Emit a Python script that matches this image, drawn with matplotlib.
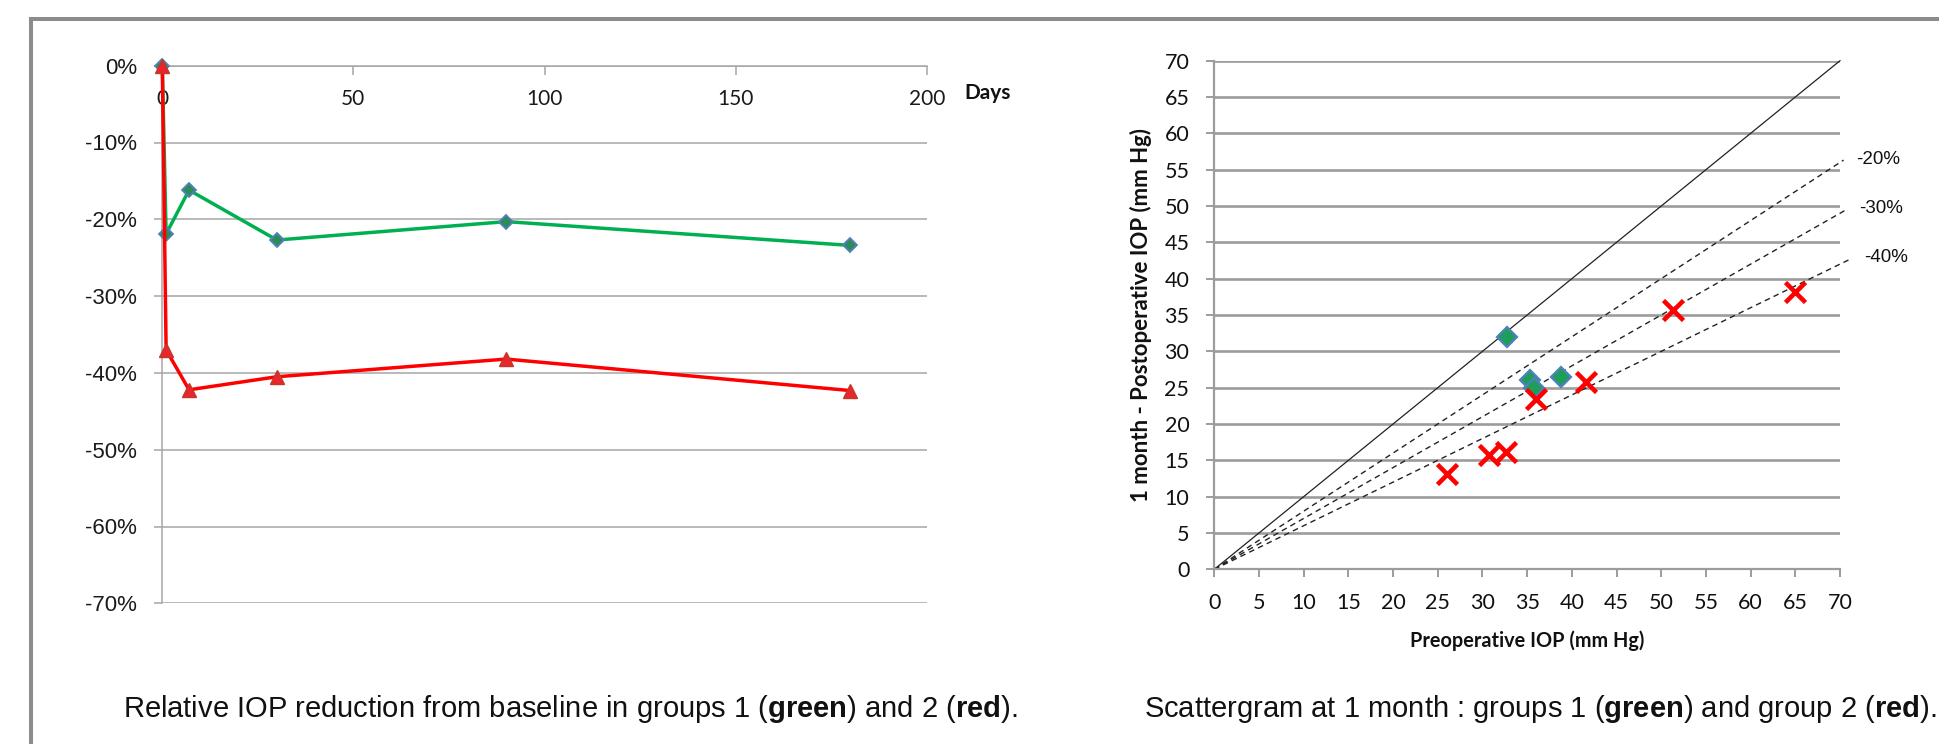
import matplotlib
matplotlib.use("Agg")
import matplotlib.pyplot as plt
from matplotlib.lines import Line2D

# ---------------- data ----------------
days = [0, 1, 7, 30, 90, 180]
group1_pct = [0.0, -21.9, -16.2, -22.7, -20.3, -23.4]
group2_pct = [0.0, -37.0, -42.2, -40.5, -38.2, -42.3]
left_xticks = [0, 50, 100, 150, 200]
left_yticks = [0, -10, -20, -30, -40, -50, -60, -70]
left_ylabels = ["0%", "-10%", "-20%", "-30%", "-40%", "-50%", "-60%", "-70%"]

g1_pre = [32.7, 35.3, 35.8, 38.75]
g1_post = [32.0, 26.1, 24.9, 26.4]
g2_pre = [26.0, 30.7, 32.6, 36.0, 41.6, 51.3, 65.0]
g2_post = [13.1, 15.8, 16.1, 23.4, 25.8, 35.7, 38.1]
ref_slopes = [0.8, 0.7, 0.6]
ref_labels = ["-20%", "-30%", "-40%"]
ref_xend = [70.4, 70.7, 71.2]
right_ticks = list(range(0, 75, 5))

plt.rcParams['mathtext.fontset'] = 'custom'
plt.rcParams['mathtext.rm'] = 'Liberation Sans'
plt.rcParams['mathtext.bf'] = 'Liberation Sans:bold'

W, H = 1940, 744
fig = plt.figure(figsize=(W / 100, H / 100), dpi=100)
fig.patch.set_facecolor('white')

def fx(px):
    return px / W

def fy(py):
    return 1 - py / H

GREEN = '#00B050'
RED = '#FF0000'
BLUE_EDGE = '#4F81BD'
GRID_L = '#A6A6A6'
GRID_R = '#9C9C9C'

# ---------------- frame ----------------
frame_c = '#8C8C8C'
fig.add_artist(Line2D([fx(30.7), 1.0], [fy(19.3), fy(19.3)], transform=fig.transFigure,
                      color=frame_c, lw=2.9, solid_capstyle='projecting'))
fig.add_artist(Line2D([fx(30.7), fx(30.7)], [fy(19.3), 0.0], transform=fig.transFigure,
                      color=frame_c, lw=2.9, solid_capstyle='projecting'))

# ---------------- left chart ----------------
l0, r0, t0, b0 = 162.3, 926.7, 65.7, 603.3
axL = fig.add_axes([fx(l0), fy(b0), fx(r0 - l0), (b0 - t0) / H])
axL.set_xlim(0, 200)
axL.set_ylim(-70, 0)
axL.set_yticks(left_yticks)
axL.set_yticklabels(left_ylabels)
axL.set_xticks(left_xticks)
axL.set_xticklabels([str(v) for v in left_xticks])
for s in ['top', 'right']:
    axL.spines[s].set_visible(False)
axL.spines['bottom'].set_position(('data', 0))
axL.spines['bottom'].set_color(GRID_L)
axL.spines['left'].set_color(GRID_L)
axL.spines['bottom'].set_linewidth(1.1)
axL.spines['left'].set_linewidth(1.1)
axL.yaxis.grid(True, color=GRID_L, lw=1.1)
axL.set_axisbelow(True)
axL.tick_params(axis='y', direction='out', length=6, width=1.1, color=GRID_L, pad=12,
                labelsize=16)
axL.tick_params(axis='x', direction='out', length=6.5, width=1.1, color=GRID_L, pad=10,
                labelsize=15)
for lab in axL.get_yticklabels():
    lab.set_fontfamily('Liberation Sans')
    lab.set_color('#1a1a1a')
for lab in axL.get_xticklabels():
    lab.set_fontfamily('Lato')
    lab.set_color('#1a1a1a')

axL.plot(days, group1_pct, color=GREEN, lw=2.5, marker='D', ms=7,
         mfc='#2E8B57', mec=BLUE_EDGE, mew=1.3, clip_on=False, zorder=3)
axL.plot(days, group2_pct, color=RED, lw=2.5, marker='^', ms=10,
         mfc='#E8262B', mec='#C0392B', mew=1.0, clip_on=False, zorder=4)

fig.text(fx(987.5), fy(93.3), "Days", fontfamily='Lato', fontweight='bold', fontsize=15,
         ha='center', va='center', color='#111111')

# ---------------- right chart ----------------
l1, r1, t1, b1 = 1214.3, 1840.0, 60.7, 569.3
axR = fig.add_axes([fx(l1), fy(b1), fx(r1 - l1), (b1 - t1) / H])
axR.set_xlim(0, 70)
axR.set_ylim(0, 70)
axR.set_xticks(right_ticks)
axR.set_yticks(right_ticks)
for s in ['top', 'right']:
    axR.spines[s].set_visible(False)
for s in ['bottom', 'left']:
    axR.spines[s].set_color(GRID_R)
    axR.spines[s].set_linewidth(1.6)
axR.yaxis.grid(True, color=GRID_R, lw=1.9)
axR.set_axisbelow(True)
axR.tick_params(axis='both', direction='out', length=6, width=1.4, color=GRID_R,
                labelsize=15.5)
axR.tick_params(axis='y', pad=12)
axR.tick_params(axis='x', pad=11)
for lab in axR.get_xticklabels() + axR.get_yticklabels():
    lab.set_fontfamily('Lato')
    lab.set_color('#111111')

axR.plot([0, 70], [0, 70], color='#222222', lw=0.9, zorder=2, clip_on=False)
for k, xe, lab in zip(ref_slopes, ref_xend, ref_labels):
    axR.plot([0, xe], [0, k * xe], color='#222222', lw=1.0, ls=(0, (4, 3)), zorder=2,
             clip_on=False)
    axR.annotate(lab, xy=(xe, k * xe), xytext=(35, 1), textcoords='offset pixels',
                 ha='center', va='center', fontsize=13.5, fontfamily='Liberation Sans',
                 color='#111111', annotation_clip=False)

axR.plot(g1_pre, g1_post, ls='none', marker='D', ms=10, mfc='#1E9E5A', mec=BLUE_EDGE,
         mew=1.6, zorder=4, clip_on=False)
axR.plot(g2_pre, g2_post, ls='none', marker='x', ms=15, mec=RED, mew=3.3, zorder=5,
         clip_on=False)

fig.text(fx(1141), fy(315), "1 month - Postoperative IOP (mm Hg)", rotation=90,
         fontfamily='Lato', fontweight='bold', fontsize=16, ha='center', va='center',
         color='#111111')
fig.text(fx(1527), fy(640.7), "Preoperative IOP (mm Hg)", fontfamily='Lato',
         fontweight='bold', fontsize=14.3, ha='center', va='center', color='#111111')

# ---------------- captions ----------------
cap1 = r"Relative IOP reduction from baseline in groups 1 ($\mathbf{green}$) and 2 ($\mathbf{red}$)."
cap2 = r"Scattergram at 1 month : groups 1 ($\mathbf{green}$) and group 2 ($\mathbf{red}$)."
fig.text(fx(123), fy(716.7), cap1, fontfamily='Liberation Sans', fontsize=21,
         ha='left', va='baseline', color='#111111')
fig.text(fx(1936), fy(716.7), cap2, fontfamily='Liberation Sans', fontsize=21,
         ha='right', va='baseline', color='#111111')

fig.savefig('out.png', dpi=100, facecolor='white')
